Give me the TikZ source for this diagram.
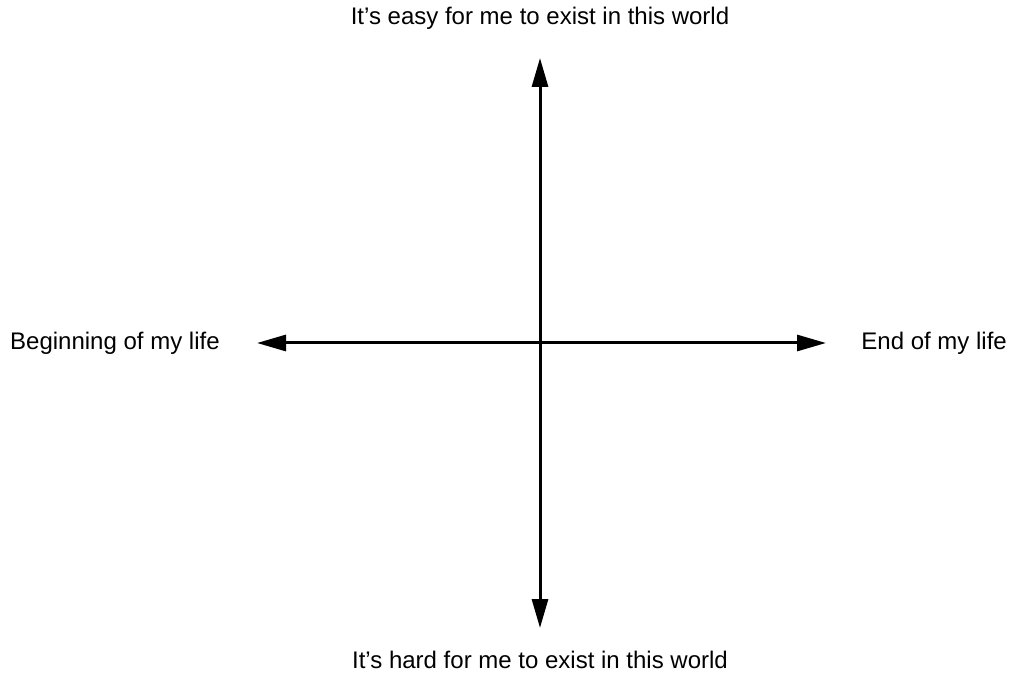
\documentclass[tikz,border=0pt]{standalone}
\usepackage{fontspec}
\setmainfont{Liberation Sans}
\usetikzlibrary{positioning}
\usetikzlibrary{arrows.meta}

\begin{document}
\begin{tikzpicture}[x=1pt, y=-1pt, font=\fontsize{24}{28}\selectfont]
				\useasboundingbox (0,0) rectangle (1013,676);
				\node[shape=coordinate] (o) at (540,343) {};
				\node[shape=coordinate] (up) at (540,58) {};
				\node[shape=coordinate] (down) at (540,628) {};
				\node[shape=coordinate] (begin) at (257,343) {};
				\node[shape=coordinate] (end) at (826,343) {};
				\node (easy) at (540,18) {It’s easy for me to exist in this world};
				\node (hard) at (540,660) {It’s hard for me to exist in this world};
				\node[anchor=west, inner sep=0pt] (beginlabel) at (10,343) {Beginning of my life};
				\node[anchor=east, inner sep=0pt] (endlabel) at (1007,343) {End of my life};
				\begin{scope}[line width=3pt, {Triangle[length=29pt, width=16pt]}-{Triangle[length=29pt, width=16pt]}]
					\draw (down) -- (up);
					\draw (begin) -- (end);
				\end{scope}
			\end{tikzpicture}
\end{document}
